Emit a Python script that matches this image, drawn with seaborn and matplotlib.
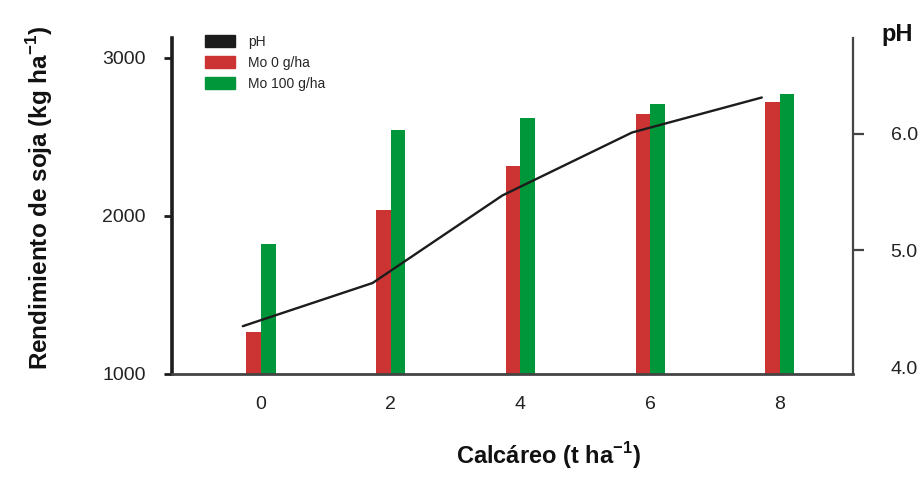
import matplotlib
matplotlib.use("Agg")
import matplotlib.pyplot as plt
from matplotlib.patches import Patch
import numpy as np
import pandas as pd
import seaborn as sns

# dosis de calcáreo (t/ha) y rendimiento de soja (kg/ha)
DOSIS = ["0", "2", "4", "6", "8"]
REND_MO0 = [1265, 2040, 2315, 2645, 2720]
REND_MO100 = [1825, 2545, 2620, 2710, 2770]
PH = [4.35, 4.72, 5.47, 6.01, 6.31]

TRAT = ["Mo 0 g/ha", "Mo 100 g/ha"]
COLORES = {"Mo 0 g/ha": "#cc3333", "Mo 100 g/ha": "#00963a"}
NEGRO = "#1c1c1c"

df = pd.DataFrame({
    "dosis": DOSIS * 2,
    "trat": [TRAT[0]] * len(DOSIS) + [TRAT[1]] * len(DOSIS),
    "rend": REND_MO0 + REND_MO100,
})

sns.set_style("white")
plt.rcParams["font.family"] = ["Liberation Sans", "DejaVu Sans"]
plt.rcParams["mathtext.fontset"] = "custom"
plt.rcParams["mathtext.rm"] = "Liberation Sans"
plt.rcParams["mathtext.bf"] = "Liberation Sans:bold"

fig = plt.figure(figsize=(9.22, 4.79), dpi=100)
ax = fig.add_axes([172 / 922, 1 - 374 / 479, 681 / 922, 336 / 479])

sns.barplot(df, x="dosis", y="rend", hue="trat", hue_order=TRAT,
            palette=COLORES, width=0.224, saturation=1, errorbar=None,
            linewidth=0, legend=False, ax=ax)
ax.set_xlim(-0.686, 4.563)
ax.set_ylim(1000, 3125)
ax.set_yticks([1000, 2000, 3000])
ax.set_xlabel("")
ax.set_ylabel("")

ax2 = ax.twinx()
ax2.plot(np.arange(len(DOSIS)) - 0.14, PH, color=NEGRO, linewidth=1.7)
ax2.set_ylim(3.94, 6.82)
ax2.set_yticks([4.0, 5.0, 6.0])
ax2.set_yticklabels(["4.0", "5.0", "6.0"])

for a in (ax, ax2):
    for s in a.spines.values():
        s.set_visible(False)
ax.spines["left"].set_visible(True)
ax.spines["left"].set_linewidth(2.6)
ax.spines["left"].set_color(NEGRO)
ax.spines["bottom"].set_visible(True)
ax.spines["bottom"].set_linewidth(2)
ax.spines["bottom"].set_color("#444444")
ax2.spines["right"].set_visible(True)
ax2.spines["right"].set_linewidth(1.6)
ax2.spines["right"].set_color("#444444")

ax.tick_params(axis="y", left=True, length=6, width=2, pad=13,
               labelsize=14, color=NEGRO, labelcolor="#222222")
ax.tick_params(axis="x", length=0, pad=16, labelsize=14, labelcolor="#222222")
ax2.tick_params(axis="y", right=True, length=8, width=1.6, pad=19,
                labelsize=14, color="#444444", labelcolor="#222222")
ax2.yaxis.get_major_ticks()[0].tick2line.set_visible(False)

handles = [Patch(color=NEGRO, label="pH")] + \
          [Patch(color=COLORES[t], label=t) for t in TRAT]
ax.legend(handles=handles, loc="upper left", bbox_to_anchor=(0.048, 1.01),
          frameon=False, fontsize=10, handlelength=2.2, handleheight=0.95,
          labelspacing=0.5, handletextpad=0.9, borderaxespad=0, borderpad=0)

fig.text(40 / 922, 1 - 198 / 479,
         r"Rendimiento de soja (kg ha$^{\mathbf{-1}}$)",
         rotation=90, ha="center", va="center", fontsize=17.5,
         fontweight="bold", color="#111111")
fig.text(548 / 922, 1 - 456 / 479, r"Calcáreo (t ha$^{\mathbf{-1}}$)",
         ha="center", va="center", fontsize=17, fontweight="bold",
         color="#111111")
fig.text(897 / 922, 1 - 35 / 479, "pH", ha="center", va="center",
         fontsize=17, fontweight="bold", color="#111111")

fig.savefig("out.png", dpi=100)
